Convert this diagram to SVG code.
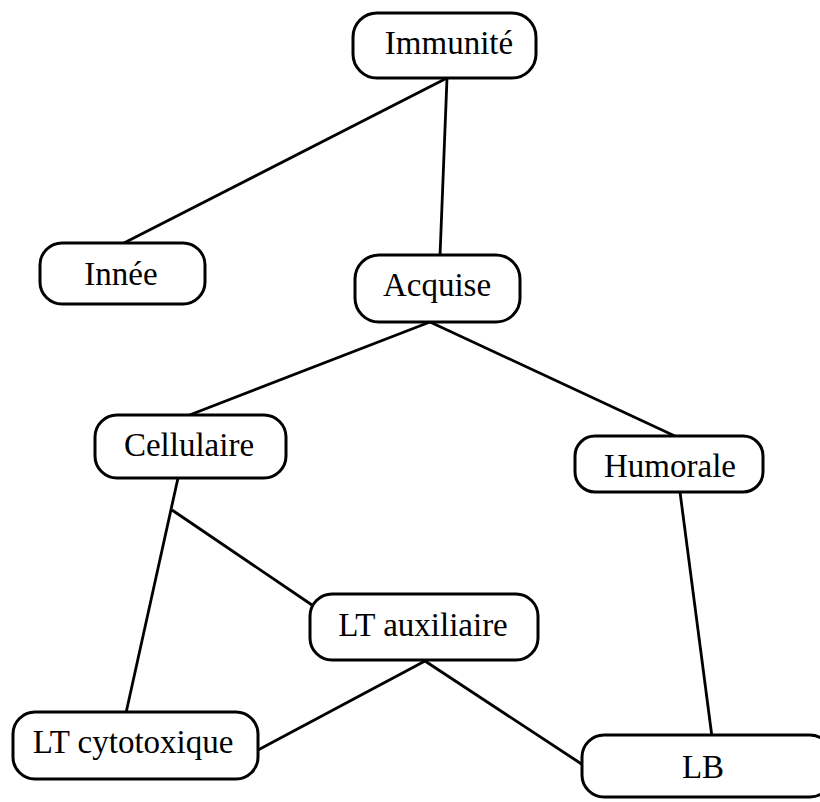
<svg xmlns="http://www.w3.org/2000/svg" width="820" height="802" viewBox="0 0 820 802">
<style>
.box{fill:#fff;stroke:#000;stroke-width:3}
.lbl{font-family:"Liberation Serif","DejaVu Serif",serif;font-size:33px;fill:#000;text-anchor:middle}
.edge{stroke:#000;stroke-width:2.8;fill:none}
</style>
<rect width="820" height="802" fill="#fff"/>
<g id="connectors">
<line class="edge" x1="447" y1="78" x2="122" y2="244"/>
<line class="edge" x1="447" y1="78" x2="440" y2="256"/>
<line class="edge" x1="430" y1="322" x2="187" y2="416"/>
<line class="edge" x1="430" y1="322" x2="677" y2="437"/>
<line class="edge" x1="178" y1="478" x2="126" y2="713"/>
<line class="edge" x1="172" y1="510" x2="312" y2="605"/>
<line class="edge" x1="425" y1="661" x2="258" y2="750"/>
<line class="edge" x1="425" y1="661" x2="583" y2="765"/>
<line class="edge" x1="680" y1="492" x2="712" y2="737"/>
</g>
<g id="immunite"><rect class="box" x="353" y="13" width="183" height="65" rx="24"/><text class="lbl" x="449" y="54">Immunité</text></g>
<g id="innee"><rect class="box" x="40" y="243" width="165" height="61" rx="22"/><text class="lbl" x="121" y="285">Innée</text></g>
<g id="acquise"><rect class="box" x="355" y="255" width="165" height="67" rx="24"/><text class="lbl" x="437" y="296">Acquise</text></g>
<g id="cellulaire"><rect class="box" x="95" y="415" width="191" height="63" rx="22"/><text class="lbl" x="189" y="456">Cellulaire</text></g>
<g id="humorale"><rect class="box" x="575" y="436" width="188" height="56" rx="20"/><text class="lbl" x="670" y="477">Humorale</text></g>
<g id="lt-auxiliaire"><rect class="box" x="310" y="594" width="228" height="66" rx="22"/><text class="lbl" x="423" y="636">LT auxiliaire</text></g>
<g id="lt-cytotoxique"><rect class="box" x="13" y="712" width="245" height="67" rx="22"/><text class="lbl" x="133" y="753">LT cytotoxique</text></g>
<g id="lb"><rect class="box" x="582" y="735" width="250" height="62" rx="22"/><text class="lbl" x="703" y="778">LB</text></g>
</svg>
